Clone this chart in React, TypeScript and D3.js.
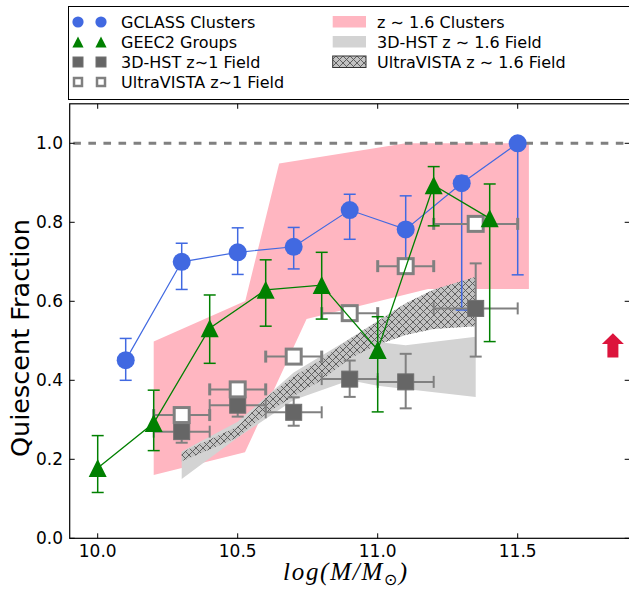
import React from 'react';
import * as d3 from 'd3';

// ---------- data ----------
// GCLASS clusters
const gclassX = [10.1, 10.3, 10.5, 10.7, 10.9, 11.1, 11.3, 11.5];
const gclassY = [0.451, 0.70, 0.724, 0.738, 0.831, 0.782, 0.899, 1.0];
const gclassLo = [0.40, 0.63, 0.668, 0.682, 0.757, 0.69, 0.578, 0.667];
const gclassHi = [0.506, 0.747, 0.786, 0.787, 0.871, 0.867, 0.917, 1.0];

// GEEC2 groups
const geecX = [10.0, 10.2, 10.4, 10.6, 10.8, 11.0, 11.2, 11.4];
const geecY = [0.178, 0.292, 0.532, 0.629, 0.641, 0.477, 0.894, 0.81];
const geecLo = [0.116, 0.222, 0.443, 0.537, 0.555, 0.32, 0.791, 0.498];
const geecHi = [0.26, 0.375, 0.616, 0.705, 0.724, 0.561, 0.941, 0.897];

// 3D-HST z~1 field
const hstX = [10.3, 10.5, 10.7, 10.9, 11.1, 11.35];
const hstXLo = [10.2, 10.4, 10.6, 10.8, 11.0, 11.2];
const hstXHi = [10.4, 10.6, 10.8, 11.0, 11.2, 11.5];
const hstY = [0.27, 0.337, 0.319, 0.403, 0.396, 0.582];
const hstLo = [0.242, 0.308, 0.285, 0.358, 0.329, 0.46];
const hstHi = [0.30, 0.37, 0.357, 0.45, 0.467, 0.696];

// UltraVISTA z~1 field
const uvX = [10.3, 10.5, 10.7, 10.9, 11.1, 11.35];
const uvXLo = [10.2, 10.4, 10.6, 10.8, 11.0, 11.2];
const uvXHi = [10.4, 10.6, 10.8, 11.0, 11.2, 11.5];
const uvY = [0.312, 0.377, 0.46, 0.57, 0.689, 0.796];

// z~1.6 clusters band (polygon)
const pinkUpX = [10.2, 10.527, 10.648, 11.1, 11.54];
const pinkUpY = [0.498, 0.601, 0.949, 1.0, 1.0];
const pinkLowX = [10.2, 10.526, 10.746, 11.18, 11.54];
const pinkLowY = [0.16, 0.218, 0.555, 0.631, 0.631];

// 3D-HST z~1.6 field band
const grayX = [10.3, 10.5, 10.7, 10.9, 11.0, 11.1, 11.35];
const grayUp = [0.22, 0.295, 0.42, 0.505, 0.497, 0.489, 0.51];
const grayLow = [0.15, 0.255, 0.35, 0.40, 0.386, 0.378, 0.358];

// UltraVISTA z~1.6 field band
const hatchX = [10.3, 10.4, 10.5, 10.6, 10.7, 10.8, 10.9, 11.0, 11.1, 11.2, 11.35];
const hatchUp = [0.218, 0.25, 0.283, 0.355, 0.41, 0.452, 0.505, 0.55, 0.595, 0.63, 0.662];
const hatchLow = [0.195, 0.225, 0.256, 0.315, 0.36, 0.40, 0.455, 0.49, 0.515, 0.53, 0.537];

// arrow
const arrowX = 11.84;
const arrowBottom = 0.458;
const arrowHeadBase = 0.492;
const arrowTip = 0.519;

const xTicks = [10.0, 10.5, 11.0, 11.5];
const xTickLabels = ['10.0', '10.5', '11.0', '11.5'];
const yTicks = [0.0, 0.2, 0.4, 0.6, 0.8, 1.0];
const yTickLabels = ['0.0', '0.2', '0.4', '0.6', '0.8', '1.0'];

const legendLeft = ['GCLASS Clusters', 'GEEC2 Groups', '3D-HST z\u223C1 Field', 'UltraVISTA z\u223C1 Field'];
const legendRight = ['z \u223C 1.6 Clusters', '3D-HST z \u223C 1.6 Field', 'UltraVISTA z \u223C 1.6 Field'];

const BLUE = '#4169E1';
const GREEN = '#008000';
const DGRAY = '#666666';
const MGRAY = '#808080';
const PINK = '#FFB6C1';
const LGRAY = '#D3D3D3';
const FONT = 'DejaVu Sans';

export default function App() {
  const W = 629, H = 590;
  const x = d3.scaleLinear().domain([9.9, 11.9]).range([69.7, 629.7]);
  const y = d3.scaleLinear().domain([0, 1.1]).range([538.3, 103.8]);
  const [x0, x1] = x.range();
  const [yb, yt] = y.range();

  const pinkPts: [number, number][] = [
    ...pinkUpX.map((v, i) => [x(v), y(pinkUpY[i])] as [number, number]),
    ...pinkLowX.map((v, i) => [x(v), y(pinkLowY[i])] as [number, number]).reverse(),
  ];
  const poly = d3.line().curve(d3.curveLinearClosed);

  const grayArea = d3.area<number>()
    .x((_, i) => x(grayX[i]))
    .y0((_, i) => y(grayLow[i]))
    .y1((_, i) => y(grayUp[i]));
  const hatchArea = d3.area<number>()
    .x((_, i) => x(hatchX[i]))
    .y0((_, i) => y(hatchLow[i]))
    .y1((_, i) => y(hatchUp[i]));

  const lineGen = d3.line<number>();
  const blueLine = lineGen(gclassX.map((v, i) => [x(v), y(gclassY[i])]) as any);
  const greenLine = lineGen(geecX.map((v, i) => [x(v), y(geecY[i])]) as any);

  const cap = 6;
  const tri = (cx: number, cy: number, h: number) =>
    `M${cx},${cy - h} L${cx - h},${cy + h} L${cx + h},${cy + h} Z`;

  const ax = x(arrowX);
  const arrowPath = `M${ax},${y(arrowTip)} L${ax - 11},${y(arrowHeadBase)} L${ax - 5.5},${y(arrowHeadBase)} L${ax - 5.5},${y(arrowBottom)} L${ax + 5.5},${y(arrowBottom)} L${ax + 5.5},${y(arrowHeadBase)} L${ax + 11},${y(arrowHeadBase)} Z`;

  const period = 15.07;
  const rowBase = [28, 48, 68, 88];

  return (
    <div style={{ position: 'absolute', left: 0, top: 0 }}>
      <svg width={W} height={H} viewBox={`0 0 ${W} ${H}`} style={{ display: 'block', background: '#fff' }}>
        <defs>
          <pattern id="xhatch" patternUnits="userSpaceOnUse" width="7" height="7">
            <rect width="7" height="7" fill="#c2c2c2" />
            <path d="M0,0L7,7M0,7L7,0" stroke="#555" strokeWidth="0.9" />
          </pattern>
        </defs>

        {/* bands */}
        <path d={poly(pinkPts) || ''} fill={PINK} />
        <path d={grayArea(grayX) || ''} fill={LGRAY} />
        <path d={hatchArea(hatchX) || ''} fill="url(#xhatch)" />

        {/* dashed line at 1.0 */}
        <line x1={x0} x2={x1} y1={y(1)} y2={y(1)} stroke={MGRAY} strokeWidth={3}
          strokeDasharray="7.6 7.47" strokeDashoffset={period - 3.6} />

        {/* GCLASS */}
        <path d={blueLine || ''} fill="none" stroke={BLUE} strokeWidth={1.2} />
        {gclassX.map((v, i) => (
          <g key={'gb' + i} stroke={BLUE} strokeWidth={1.5}>
            <line x1={x(v)} x2={x(v)} y1={y(gclassLo[i])} y2={y(gclassHi[i])} />
            <line x1={x(v) - cap} x2={x(v) + cap} y1={y(gclassLo[i])} y2={y(gclassLo[i])} />
            <line x1={x(v) - cap} x2={x(v) + cap} y1={y(gclassHi[i])} y2={y(gclassHi[i])} />
          </g>
        ))}
        {gclassX.map((v, i) => (
          <circle key={'gc' + i} cx={x(v)} cy={y(gclassY[i])} r={9} fill={BLUE} />
        ))}

        {/* 3D-HST z~1 */}
        {hstX.map((v, i) => (
          <g key={'hb' + i} stroke={MGRAY} strokeWidth={2}>
            <line x1={x(hstXLo[i])} x2={x(hstXHi[i])} y1={y(hstY[i])} y2={y(hstY[i])} />
            <line x1={x(hstXLo[i])} x2={x(hstXLo[i])} y1={y(hstY[i]) - cap} y2={y(hstY[i]) + cap} />
            <line x1={x(hstXHi[i])} x2={x(hstXHi[i])} y1={y(hstY[i]) - cap} y2={y(hstY[i]) + cap} />
            <line x1={x(v)} x2={x(v)} y1={y(hstLo[i])} y2={y(hstHi[i])} />
            <line x1={x(v) - cap} x2={x(v) + cap} y1={y(hstLo[i])} y2={y(hstLo[i])} />
            <line x1={x(v) - cap} x2={x(v) + cap} y1={y(hstHi[i])} y2={y(hstHi[i])} />
          </g>
        ))}
        {hstX.map((v, i) => (
          <rect key={'hs' + i} x={x(v) - 8} y={y(hstY[i]) - 8} width={16} height={16}
            fill={DGRAY} stroke="#707070" strokeWidth={1} />
        ))}

        {/* UltraVISTA z~1 */}
        {uvX.map((v, i) => (
          <g key={'ub' + i} stroke={MGRAY}>
            <line x1={x(uvXLo[i])} x2={x(uvXHi[i])} y1={y(uvY[i])} y2={y(uvY[i])} strokeWidth={2} />
            <line x1={x(uvXLo[i])} x2={x(uvXLo[i])} y1={y(uvY[i]) - cap} y2={y(uvY[i]) + cap} strokeWidth={3} />
            <line x1={x(uvXHi[i])} x2={x(uvXHi[i])} y1={y(uvY[i]) - cap} y2={y(uvY[i]) + cap} strokeWidth={3} />
          </g>
        ))}
        {uvX.map((v, i) => (
          <rect key={'us' + i} x={x(v) - 7.5} y={y(uvY[i]) - 7.5} width={15} height={15}
            fill="#fff" stroke={MGRAY} strokeWidth={3} />
        ))}

        {/* GEEC2 */}
        <path d={greenLine || ''} fill="none" stroke={GREEN} strokeWidth={1.3} />
        {geecX.map((v, i) => (
          <g key={'eb' + i} stroke={GREEN} strokeWidth={1.5}>
            <line x1={x(v)} x2={x(v)} y1={y(geecLo[i])} y2={y(geecHi[i])} />
            <line x1={x(v) - cap} x2={x(v) + cap} y1={y(geecLo[i])} y2={y(geecLo[i])} />
            <line x1={x(v) - cap} x2={x(v) + cap} y1={y(geecHi[i])} y2={y(geecHi[i])} />
          </g>
        ))}
        {geecX.map((v, i) => (
          <path key={'et' + i} d={tri(x(v), y(geecY[i]), 9)} fill={GREEN} />
        ))}

        {/* arrow */}
        <path d={arrowPath} fill="#DC143C" />

        {/* axes frame */}
        <rect x={x0} y={yt} width={x1 - x0} height={yb - yt} fill="none" stroke="#000" strokeWidth={1.2} />
        {xTicks.map((t, i) => (
          <g key={'xt' + i}>
            <line x1={x(t)} x2={x(t)} y1={yb} y2={yb - 5} stroke="#000" />
            <line x1={x(t)} x2={x(t)} y1={yt} y2={yt + 5} stroke="#000" />
            <text x={x(t)} y={557} textAnchor="middle" fontFamily={FONT} fontSize={17}>{xTickLabels[i]}</text>
          </g>
        ))}
        {yTicks.map((t, i) => (
          <g key={'yt' + i}>
            <line x1={x0} x2={x0 + 5} y1={y(t)} y2={y(t)} stroke="#000" />
            <line x1={x1} x2={x1 - 5} y1={y(t)} y2={y(t)} stroke="#000" />
            <text x={63} y={y(t) + 6} textAnchor="end" fontFamily={FONT} fontSize={17}>{yTickLabels[i]}</text>
          </g>
        ))}

        {/* axis labels */}
        <text transform="translate(29,338) rotate(-90)" textAnchor="middle" fontFamily={FONT} fontSize={25.5}>Quiescent Fraction</text>
        <text x={283} y={580} fontFamily="Liberation Serif" fontStyle="italic" fontSize={25}
          textLength={124} lengthAdjust="spacing">
          log(M/M<tspan fontSize={16} dy={5} fontStyle="normal">{'\u2299'}</tspan><tspan dy={-5}>)</tspan>
        </text>

        {/* legend */}
        <rect x={68.5} y={6.5} width={620} height={93} fill="#fff" stroke="#000" strokeWidth={1} />
        {[78, 101].map((lx) => <circle key={'l1' + lx} cx={lx} cy={rowBase[0] - 6} r={5.6} fill={BLUE} />)}
        {[78, 101].map((lx) => <path key={'l2' + lx} d={tri(lx, rowBase[1] - 6, 5.6)} fill={GREEN} />)}
        {[78, 101].map((lx) => <rect key={'l3' + lx} x={lx - 5} y={rowBase[2] - 11} width={10} height={10} fill={DGRAY} stroke="#707070" />)}
        {[78, 101].map((lx) => <rect key={'l4' + lx} x={lx - 4} y={rowBase[3] - 10} width={8} height={8} fill="#fff" stroke={MGRAY} strokeWidth={2.5} />)}
        {legendLeft.map((t, i) => (
          <text key={'ll' + i} x={121} y={rowBase[i]} fontFamily={FONT} fontSize={16}>{t}</text>
        ))}
        <rect x={332.7} y={rowBase[0] - 12} width={33.3} height={11.5} fill={PINK} />
        <rect x={332.7} y={rowBase[1] - 12} width={33.3} height={11.5} fill={LGRAY} />
        <rect x={332.7} y={rowBase[2] - 12} width={33.3} height={11.5} fill="url(#xhatch)" stroke="#333" strokeWidth={1} />
        {legendRight.map((t, i) => (
          <text key={'lr' + i} x={377} y={rowBase[i]} fontFamily={FONT} fontSize={16}>{t}</text>
        ))}
      </svg>
    </div>
  );
}
